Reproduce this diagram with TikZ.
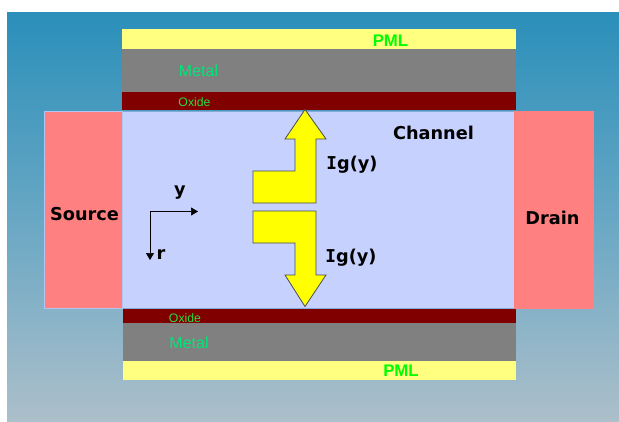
\documentclass[tikz,border=0pt]{standalone}
\usepackage{fontspec}
\setmainfont{DejaVu Sans}
\newfontfamily\liber{Liberation Sans}
\newfontfamily\serifI{DejaVu Sans Mono}
\usetikzlibrary{arrows.meta}
\definecolor{bgtop}{RGB}{42,143,186}
\definecolor{bgmid}{RGB}{104,167,196}
\definecolor{bgbot}{RGB}{172,191,202}
\definecolor{pmlyellow}{RGB}{255,255,128}
\definecolor{metalgray}{RGB}{128,128,128}
\definecolor{oxidered}{RGB}{128,0,0}
\definecolor{channelblue}{RGB}{198,209,253}
\definecolor{contactred}{RGB}{255,128,128}
\definecolor{edgeblue}{RGB}{130,170,215}
\definecolor{metalgreen}{RGB}{0,230,120}
\definecolor{oxidegreen}{RGB}{40,220,60}
\definecolor{pureyellow}{RGB}{255,255,0}
\definecolor{puregreen}{RGB}{0,255,0}
\definecolor{arrowedge}{RGB}{70,75,85}
\tikzset{
  x=1pt,y=-1pt,
  pml/.style={fill=pmlyellow,draw=none},
  metal/.style={fill=metalgray,draw=none},
  oxide/.style={fill=oxidered,draw=none},
  contact/.style={fill=contactred,draw=none},
  channel/.style={fill=channelblue,draw=none},
  fluxarrow/.style={fill=pureyellow,draw=arrowedge,line width=0.8pt,line join=miter},
  heavy/.style={font=\bfseries\fontsize{17.7}{17.7}\selectfont,text=black,inner sep=0pt},
  pmltext/.style={font=\liber\bfseries\fontsize{16.8}{16.8}\selectfont,text=puregreen,inner sep=0pt},
  metaltext/.style={font=\liber\fontsize{16}{16}\selectfont,text=metalgreen,inner sep=0pt},
  oxidetext/.style={font=\liber\fontsize{12.3}{12.3}\selectfont,text=oxidegreen,inner sep=0pt},
  axis/.style={draw=black,line width=0.7pt,-{Triangle[length=7pt,width=8pt]}}
}
\newcommand{\Igy}{{\serifI I}g(y)}
\begin{document}
\begin{tikzpicture}
\useasboundingbox (0,0) rectangle (619,421);
\fill[white] (0,0) rectangle (619,421);
\shade[top color=bgtop,bottom color=bgbot,middle color=bgmid] (7,12) rectangle (619,421);
% layers
\path[pml] (122,29) rectangle (516,49);
\path[metal] (122,49) rectangle (516,92);
\path[oxide] (122,92) rectangle (516,110);
\path[channel,draw=edgeblue,line width=0.8pt] (122.5,111) rectangle (514,308);
\path[contact,draw=channelblue!70!edgeblue,line width=0.8pt] (44.5,111) rectangle (122,308);
\path[contact] (514,111) rectangle (594,308.5);
\path[oxide] (123,308.5) rectangle (516,323);
\path[metal] (123,323) rectangle (516,361);
\path[pml] (123,361) rectangle (516,380);
% flux arrows
\draw[fluxarrow] (305,109.5)--(326,139)--(316,139)--(316,203)--(253,203)--(253,171)--(295,171)--(295,139)--(285,139)--cycle;
\draw[fluxarrow] (305,306.5)--(326,275)--(316,275)--(316,211)--(253,211)--(253,243)--(295,243)--(295,275)--(285,275)--cycle;
% axes
\coordinate (origin) at (150,211.5);
\coordinate (yend) at (198,211.5);
\coordinate (rend) at (150,260);
\draw[axis] (origin) -- (yend);
\draw[axis] (origin) -- (rend);
% labels
\node[heavy] (ylabel) at (180,193) {y};
\node[heavy] (rlabel) at (161,255) {r};
\node[heavy] (source) at (84.5,214) {Source};
\node[heavy] (drain) at (552.5,218) {Drain};
\node[heavy] (chan) at (433.5,133) {Channel};
\node[heavy] (igtop) at (352,165) {\Igy};
\node[heavy] (igbot) at (351,258) {\Igy};
\node[pmltext] (pmltop) at (390.5,41) {PML};
\node[pmltext] (pmlbot) at (401,371) {PML};
\node[metaltext] (metaltop) at (198.5,71) {Metal};
\node[metaltext] (metalbot) at (189,343) {Metal};
\node[oxidetext] (oxtop) at (194.5,102) {Oxide};
\node[oxidetext] (oxbot) at (185,318) {Oxide};
\end{tikzpicture}
\end{document}
